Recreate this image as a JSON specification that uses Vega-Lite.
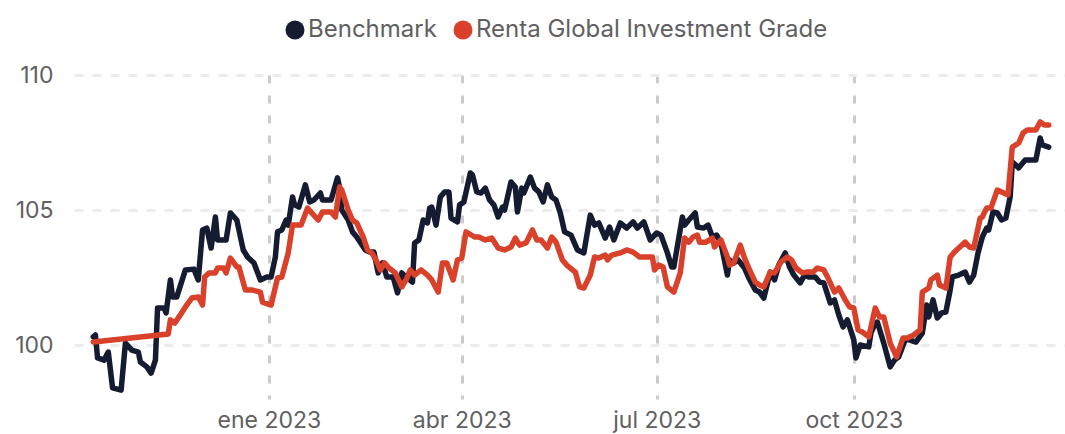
{
  "$schema": "https://vega.github.io/schema/vega-lite/v6.json",
  "autosize": "none",
  "width": 991,
  "height": 324,
  "padding": {"left": 74, "top": 75, "right": 0, "bottom": 35},
  "background": "#ffffff",
  "config": {
    "view": {"stroke": null},
    "font": "Inter",
    "axis": {"labelFont": "Inter", "labelColor": "#606060", "labelFontSize": 23, "domain": false, "ticks": false},
    "legend": {"labelFont": "Inter", "labelColor": "#606060", "labelFontSize": 24, "labelLimit": 0}
  },
  "datasets": {
    "series": [
      {"date": "2022-10-11", "series": "Benchmark", "value": 100.30},
      {"date": "2022-10-12", "series": "Benchmark", "value": 100.37},
      {"date": "2022-10-13", "series": "Benchmark", "value": 99.52},
      {"date": "2022-10-16", "series": "Benchmark", "value": 99.44},
      {"date": "2022-10-18", "series": "Benchmark", "value": 99.74},
      {"date": "2022-10-20", "series": "Benchmark", "value": 98.41},
      {"date": "2022-10-24", "series": "Benchmark", "value": 98.33},
      {"date": "2022-10-26", "series": "Benchmark", "value": 100.07},
      {"date": "2022-10-29", "series": "Benchmark", "value": 99.81},
      {"date": "2022-11-01", "series": "Benchmark", "value": 99.74},
      {"date": "2022-11-02", "series": "Benchmark", "value": 99.37},
      {"date": "2022-11-05", "series": "Benchmark", "value": 99.19},
      {"date": "2022-11-07", "series": "Benchmark", "value": 98.96},
      {"date": "2022-11-09", "series": "Benchmark", "value": 99.44},
      {"date": "2022-11-10", "series": "Benchmark", "value": 101.37},
      {"date": "2022-11-13", "series": "Benchmark", "value": 101.37},
      {"date": "2022-11-14", "series": "Benchmark", "value": 101.19},
      {"date": "2022-11-16", "series": "Benchmark", "value": 102.41},
      {"date": "2022-11-17", "series": "Benchmark", "value": 101.78},
      {"date": "2022-11-19", "series": "Benchmark", "value": 101.78},
      {"date": "2022-11-23", "series": "Benchmark", "value": 102.78},
      {"date": "2022-11-27", "series": "Benchmark", "value": 102.81},
      {"date": "2022-11-29", "series": "Benchmark", "value": 102.41},
      {"date": "2022-12-01", "series": "Benchmark", "value": 104.26},
      {"date": "2022-12-03", "series": "Benchmark", "value": 104.33},
      {"date": "2022-12-05", "series": "Benchmark", "value": 103.59},
      {"date": "2022-12-07", "series": "Benchmark", "value": 104.74},
      {"date": "2022-12-08", "series": "Benchmark", "value": 103.89},
      {"date": "2022-12-12", "series": "Benchmark", "value": 103.89},
      {"date": "2022-12-14", "series": "Benchmark", "value": 104.89},
      {"date": "2022-12-17", "series": "Benchmark", "value": 104.63},
      {"date": "2022-12-20", "series": "Benchmark", "value": 103.52},
      {"date": "2022-12-22", "series": "Benchmark", "value": 103.26},
      {"date": "2022-12-25", "series": "Benchmark", "value": 103.04},
      {"date": "2022-12-28", "series": "Benchmark", "value": 102.41},
      {"date": "2022-12-31", "series": "Benchmark", "value": 102.52},
      {"date": "2023-01-02", "series": "Benchmark", "value": 102.52},
      {"date": "2023-01-04", "series": "Benchmark", "value": 103.26},
      {"date": "2023-01-05", "series": "Benchmark", "value": 104.19},
      {"date": "2023-01-07", "series": "Benchmark", "value": 104.26},
      {"date": "2023-01-09", "series": "Benchmark", "value": 104.63},
      {"date": "2023-01-10", "series": "Benchmark", "value": 104.44},
      {"date": "2023-01-12", "series": "Benchmark", "value": 105.48},
      {"date": "2023-01-13", "series": "Benchmark", "value": 105.19},
      {"date": "2023-01-15", "series": "Benchmark", "value": 105.11},
      {"date": "2023-01-18", "series": "Benchmark", "value": 105.93},
      {"date": "2023-01-20", "series": "Benchmark", "value": 105.30},
      {"date": "2023-01-22", "series": "Benchmark", "value": 105.37},
      {"date": "2023-01-25", "series": "Benchmark", "value": 105.63},
      {"date": "2023-01-26", "series": "Benchmark", "value": 105.37},
      {"date": "2023-01-30", "series": "Benchmark", "value": 105.37},
      {"date": "2023-02-02", "series": "Benchmark", "value": 106.19},
      {"date": "2023-02-03", "series": "Benchmark", "value": 105.81},
      {"date": "2023-02-04", "series": "Benchmark", "value": 105.00},
      {"date": "2023-02-07", "series": "Benchmark", "value": 104.63},
      {"date": "2023-02-09", "series": "Benchmark", "value": 104.19},
      {"date": "2023-02-11", "series": "Benchmark", "value": 104.00},
      {"date": "2023-02-15", "series": "Benchmark", "value": 103.52},
      {"date": "2023-02-17", "series": "Benchmark", "value": 103.44},
      {"date": "2023-02-19", "series": "Benchmark", "value": 103.44},
      {"date": "2023-02-21", "series": "Benchmark", "value": 102.67},
      {"date": "2023-02-23", "series": "Benchmark", "value": 103.04},
      {"date": "2023-02-25", "series": "Benchmark", "value": 102.52},
      {"date": "2023-02-28", "series": "Benchmark", "value": 102.52},
      {"date": "2023-03-02", "series": "Benchmark", "value": 101.93},
      {"date": "2023-03-04", "series": "Benchmark", "value": 102.67},
      {"date": "2023-03-06", "series": "Benchmark", "value": 102.52},
      {"date": "2023-03-09", "series": "Benchmark", "value": 102.33},
      {"date": "2023-03-10", "series": "Benchmark", "value": 103.78},
      {"date": "2023-03-12", "series": "Benchmark", "value": 103.89},
      {"date": "2023-03-14", "series": "Benchmark", "value": 104.63},
      {"date": "2023-03-16", "series": "Benchmark", "value": 104.52},
      {"date": "2023-03-17", "series": "Benchmark", "value": 105.07},
      {"date": "2023-03-18", "series": "Benchmark", "value": 105.11},
      {"date": "2023-03-20", "series": "Benchmark", "value": 104.44},
      {"date": "2023-03-22", "series": "Benchmark", "value": 105.48},
      {"date": "2023-03-24", "series": "Benchmark", "value": 105.67},
      {"date": "2023-03-26", "series": "Benchmark", "value": 105.67},
      {"date": "2023-03-27", "series": "Benchmark", "value": 104.70},
      {"date": "2023-03-30", "series": "Benchmark", "value": 104.56},
      {"date": "2023-03-31", "series": "Benchmark", "value": 105.19},
      {"date": "2023-04-02", "series": "Benchmark", "value": 105.30},
      {"date": "2023-04-05", "series": "Benchmark", "value": 106.37},
      {"date": "2023-04-06", "series": "Benchmark", "value": 106.30},
      {"date": "2023-04-08", "series": "Benchmark", "value": 105.67},
      {"date": "2023-04-10", "series": "Benchmark", "value": 105.63},
      {"date": "2023-04-12", "series": "Benchmark", "value": 105.81},
      {"date": "2023-04-14", "series": "Benchmark", "value": 105.37},
      {"date": "2023-04-16", "series": "Benchmark", "value": 105.19},
      {"date": "2023-04-18", "series": "Benchmark", "value": 104.74},
      {"date": "2023-04-20", "series": "Benchmark", "value": 105.11},
      {"date": "2023-04-21", "series": "Benchmark", "value": 105.00},
      {"date": "2023-04-24", "series": "Benchmark", "value": 106.04},
      {"date": "2023-04-26", "series": "Benchmark", "value": 105.85},
      {"date": "2023-04-27", "series": "Benchmark", "value": 104.93},
      {"date": "2023-04-29", "series": "Benchmark", "value": 105.81},
      {"date": "2023-04-30", "series": "Benchmark", "value": 105.63},
      {"date": "2023-05-03", "series": "Benchmark", "value": 106.22},
      {"date": "2023-05-05", "series": "Benchmark", "value": 105.81},
      {"date": "2023-05-07", "series": "Benchmark", "value": 105.67},
      {"date": "2023-05-09", "series": "Benchmark", "value": 105.30},
      {"date": "2023-05-11", "series": "Benchmark", "value": 105.93},
      {"date": "2023-05-13", "series": "Benchmark", "value": 105.48},
      {"date": "2023-05-15", "series": "Benchmark", "value": 105.37},
      {"date": "2023-05-17", "series": "Benchmark", "value": 104.89},
      {"date": "2023-05-19", "series": "Benchmark", "value": 104.19},
      {"date": "2023-05-22", "series": "Benchmark", "value": 104.07},
      {"date": "2023-05-25", "series": "Benchmark", "value": 103.52},
      {"date": "2023-05-28", "series": "Benchmark", "value": 103.41},
      {"date": "2023-05-31", "series": "Benchmark", "value": 104.81},
      {"date": "2023-06-02", "series": "Benchmark", "value": 104.44},
      {"date": "2023-06-04", "series": "Benchmark", "value": 104.52},
      {"date": "2023-06-07", "series": "Benchmark", "value": 103.96},
      {"date": "2023-06-09", "series": "Benchmark", "value": 104.37},
      {"date": "2023-06-11", "series": "Benchmark", "value": 103.89},
      {"date": "2023-06-14", "series": "Benchmark", "value": 104.52},
      {"date": "2023-06-17", "series": "Benchmark", "value": 104.33},
      {"date": "2023-06-20", "series": "Benchmark", "value": 104.56},
      {"date": "2023-06-22", "series": "Benchmark", "value": 104.33},
      {"date": "2023-06-25", "series": "Benchmark", "value": 104.56},
      {"date": "2023-06-28", "series": "Benchmark", "value": 103.89},
      {"date": "2023-07-01", "series": "Benchmark", "value": 104.15},
      {"date": "2023-07-03", "series": "Benchmark", "value": 104.07},
      {"date": "2023-07-06", "series": "Benchmark", "value": 103.41},
      {"date": "2023-07-08", "series": "Benchmark", "value": 102.89},
      {"date": "2023-07-09", "series": "Benchmark", "value": 102.89},
      {"date": "2023-07-13", "series": "Benchmark", "value": 104.74},
      {"date": "2023-07-14", "series": "Benchmark", "value": 104.44},
      {"date": "2023-07-16", "series": "Benchmark", "value": 104.63},
      {"date": "2023-07-19", "series": "Benchmark", "value": 104.89},
      {"date": "2023-07-20", "series": "Benchmark", "value": 104.37},
      {"date": "2023-07-23", "series": "Benchmark", "value": 104.33},
      {"date": "2023-07-25", "series": "Benchmark", "value": 104.44},
      {"date": "2023-07-27", "series": "Benchmark", "value": 104.00},
      {"date": "2023-07-29", "series": "Benchmark", "value": 104.07},
      {"date": "2023-07-31", "series": "Benchmark", "value": 103.78},
      {"date": "2023-08-03", "series": "Benchmark", "value": 102.59},
      {"date": "2023-08-04", "series": "Benchmark", "value": 103.15},
      {"date": "2023-08-06", "series": "Benchmark", "value": 103.04},
      {"date": "2023-08-08", "series": "Benchmark", "value": 103.15},
      {"date": "2023-08-11", "series": "Benchmark", "value": 102.85},
      {"date": "2023-08-13", "series": "Benchmark", "value": 102.48},
      {"date": "2023-08-16", "series": "Benchmark", "value": 102.04},
      {"date": "2023-08-18", "series": "Benchmark", "value": 101.96},
      {"date": "2023-08-20", "series": "Benchmark", "value": 101.74},
      {"date": "2023-08-23", "series": "Benchmark", "value": 102.70},
      {"date": "2023-08-25", "series": "Benchmark", "value": 102.41},
      {"date": "2023-08-27", "series": "Benchmark", "value": 102.96},
      {"date": "2023-08-30", "series": "Benchmark", "value": 103.41},
      {"date": "2023-09-01", "series": "Benchmark", "value": 102.89},
      {"date": "2023-09-03", "series": "Benchmark", "value": 102.59},
      {"date": "2023-09-06", "series": "Benchmark", "value": 102.30},
      {"date": "2023-09-08", "series": "Benchmark", "value": 102.59},
      {"date": "2023-09-10", "series": "Benchmark", "value": 102.52},
      {"date": "2023-09-13", "series": "Benchmark", "value": 102.52},
      {"date": "2023-09-15", "series": "Benchmark", "value": 102.33},
      {"date": "2023-09-17", "series": "Benchmark", "value": 102.30},
      {"date": "2023-09-20", "series": "Benchmark", "value": 101.56},
      {"date": "2023-09-22", "series": "Benchmark", "value": 101.67},
      {"date": "2023-09-24", "series": "Benchmark", "value": 101.11},
      {"date": "2023-09-26", "series": "Benchmark", "value": 100.67},
      {"date": "2023-09-28", "series": "Benchmark", "value": 100.93},
      {"date": "2023-10-01", "series": "Benchmark", "value": 100.19},
      {"date": "2023-10-02", "series": "Benchmark", "value": 99.52},
      {"date": "2023-10-04", "series": "Benchmark", "value": 100.00},
      {"date": "2023-10-08", "series": "Benchmark", "value": 99.93},
      {"date": "2023-10-09", "series": "Benchmark", "value": 100.44},
      {"date": "2023-10-11", "series": "Benchmark", "value": 100.81},
      {"date": "2023-10-12", "series": "Benchmark", "value": 100.85},
      {"date": "2023-10-15", "series": "Benchmark", "value": 100.07},
      {"date": "2023-10-18", "series": "Benchmark", "value": 99.19},
      {"date": "2023-10-20", "series": "Benchmark", "value": 99.44},
      {"date": "2023-10-22", "series": "Benchmark", "value": 99.56},
      {"date": "2023-10-25", "series": "Benchmark", "value": 100.19},
      {"date": "2023-10-27", "series": "Benchmark", "value": 100.19},
      {"date": "2023-10-30", "series": "Benchmark", "value": 100.11},
      {"date": "2023-11-02", "series": "Benchmark", "value": 100.44},
      {"date": "2023-11-04", "series": "Benchmark", "value": 101.48},
      {"date": "2023-11-05", "series": "Benchmark", "value": 101.04},
      {"date": "2023-11-07", "series": "Benchmark", "value": 101.67},
      {"date": "2023-11-09", "series": "Benchmark", "value": 101.00},
      {"date": "2023-11-11", "series": "Benchmark", "value": 101.19},
      {"date": "2023-11-13", "series": "Benchmark", "value": 101.22},
      {"date": "2023-11-15", "series": "Benchmark", "value": 102.04},
      {"date": "2023-11-16", "series": "Benchmark", "value": 102.52},
      {"date": "2023-11-19", "series": "Benchmark", "value": 102.59},
      {"date": "2023-11-22", "series": "Benchmark", "value": 102.70},
      {"date": "2023-11-24", "series": "Benchmark", "value": 102.33},
      {"date": "2023-11-26", "series": "Benchmark", "value": 102.59},
      {"date": "2023-11-28", "series": "Benchmark", "value": 103.41},
      {"date": "2023-11-30", "series": "Benchmark", "value": 104.00},
      {"date": "2023-12-02", "series": "Benchmark", "value": 104.33},
      {"date": "2023-12-03", "series": "Benchmark", "value": 104.26},
      {"date": "2023-12-05", "series": "Benchmark", "value": 104.93},
      {"date": "2023-12-07", "series": "Benchmark", "value": 104.89},
      {"date": "2023-12-09", "series": "Benchmark", "value": 104.63},
      {"date": "2023-12-11", "series": "Benchmark", "value": 104.70},
      {"date": "2023-12-13", "series": "Benchmark", "value": 105.48},
      {"date": "2023-12-14", "series": "Benchmark", "value": 106.78},
      {"date": "2023-12-17", "series": "Benchmark", "value": 106.56},
      {"date": "2023-12-20", "series": "Benchmark", "value": 106.85},
      {"date": "2023-12-23", "series": "Benchmark", "value": 106.85},
      {"date": "2023-12-25", "series": "Benchmark", "value": 106.85},
      {"date": "2023-12-27", "series": "Benchmark", "value": 107.67},
      {"date": "2023-12-28", "series": "Benchmark", "value": 107.41},
      {"date": "2023-12-31", "series": "Benchmark", "value": 107.33},

      {"date": "2022-10-11", "series": "Renta Global Investment Grade", "value": 100.11},
      {"date": "2022-11-15", "series": "Renta Global Investment Grade", "value": 100.41},
      {"date": "2022-11-16", "series": "Renta Global Investment Grade", "value": 100.93},
      {"date": "2022-11-18", "series": "Renta Global Investment Grade", "value": 100.81},
      {"date": "2022-11-20", "series": "Renta Global Investment Grade", "value": 101.04},
      {"date": "2022-11-23", "series": "Renta Global Investment Grade", "value": 101.41},
      {"date": "2022-11-26", "series": "Renta Global Investment Grade", "value": 101.74},
      {"date": "2022-11-29", "series": "Renta Global Investment Grade", "value": 101.78},
      {"date": "2022-12-01", "series": "Renta Global Investment Grade", "value": 101.48},
      {"date": "2022-12-02", "series": "Renta Global Investment Grade", "value": 102.52},
      {"date": "2022-12-04", "series": "Renta Global Investment Grade", "value": 102.67},
      {"date": "2022-12-07", "series": "Renta Global Investment Grade", "value": 102.67},
      {"date": "2022-12-08", "series": "Renta Global Investment Grade", "value": 102.85},
      {"date": "2022-12-11", "series": "Renta Global Investment Grade", "value": 102.85},
      {"date": "2022-12-12", "series": "Renta Global Investment Grade", "value": 102.67},
      {"date": "2022-12-14", "series": "Renta Global Investment Grade", "value": 103.22},
      {"date": "2022-12-17", "series": "Renta Global Investment Grade", "value": 102.89},
      {"date": "2022-12-18", "series": "Renta Global Investment Grade", "value": 102.89},
      {"date": "2022-12-21", "series": "Renta Global Investment Grade", "value": 102.04},
      {"date": "2022-12-24", "series": "Renta Global Investment Grade", "value": 102.04},
      {"date": "2022-12-28", "series": "Renta Global Investment Grade", "value": 101.96},
      {"date": "2022-12-29", "series": "Renta Global Investment Grade", "value": 101.59},
      {"date": "2023-01-02", "series": "Renta Global Investment Grade", "value": 101.48},
      {"date": "2023-01-05", "series": "Renta Global Investment Grade", "value": 102.48},
      {"date": "2023-01-07", "series": "Renta Global Investment Grade", "value": 102.52},
      {"date": "2023-01-10", "series": "Renta Global Investment Grade", "value": 103.41},
      {"date": "2023-01-12", "series": "Renta Global Investment Grade", "value": 104.44},
      {"date": "2023-01-16", "series": "Renta Global Investment Grade", "value": 104.44},
      {"date": "2023-01-19", "series": "Renta Global Investment Grade", "value": 105.07},
      {"date": "2023-01-21", "series": "Renta Global Investment Grade", "value": 104.89},
      {"date": "2023-01-24", "series": "Renta Global Investment Grade", "value": 104.63},
      {"date": "2023-01-26", "series": "Renta Global Investment Grade", "value": 104.93},
      {"date": "2023-01-30", "series": "Renta Global Investment Grade", "value": 104.93},
      {"date": "2023-02-01", "series": "Renta Global Investment Grade", "value": 104.74},
      {"date": "2023-02-03", "series": "Renta Global Investment Grade", "value": 105.85},
      {"date": "2023-02-04", "series": "Renta Global Investment Grade", "value": 105.74},
      {"date": "2023-02-07", "series": "Renta Global Investment Grade", "value": 105.00},
      {"date": "2023-02-09", "series": "Renta Global Investment Grade", "value": 104.63},
      {"date": "2023-02-11", "series": "Renta Global Investment Grade", "value": 104.52},
      {"date": "2023-02-14", "series": "Renta Global Investment Grade", "value": 104.00},
      {"date": "2023-02-16", "series": "Renta Global Investment Grade", "value": 103.52},
      {"date": "2023-02-18", "series": "Renta Global Investment Grade", "value": 103.41},
      {"date": "2023-02-20", "series": "Renta Global Investment Grade", "value": 103.15},
      {"date": "2023-02-22", "series": "Renta Global Investment Grade", "value": 102.78},
      {"date": "2023-02-24", "series": "Renta Global Investment Grade", "value": 103.04},
      {"date": "2023-02-26", "series": "Renta Global Investment Grade", "value": 102.85},
      {"date": "2023-03-01", "series": "Renta Global Investment Grade", "value": 102.67},
      {"date": "2023-03-04", "series": "Renta Global Investment Grade", "value": 102.15},
      {"date": "2023-03-06", "series": "Renta Global Investment Grade", "value": 102.41},
      {"date": "2023-03-08", "series": "Renta Global Investment Grade", "value": 102.78},
      {"date": "2023-03-10", "series": "Renta Global Investment Grade", "value": 102.59},
      {"date": "2023-03-13", "series": "Renta Global Investment Grade", "value": 102.78},
      {"date": "2023-03-16", "series": "Renta Global Investment Grade", "value": 102.59},
      {"date": "2023-03-18", "series": "Renta Global Investment Grade", "value": 102.41},
      {"date": "2023-03-21", "series": "Renta Global Investment Grade", "value": 101.96},
      {"date": "2023-03-23", "series": "Renta Global Investment Grade", "value": 103.04},
      {"date": "2023-03-25", "series": "Renta Global Investment Grade", "value": 103.04},
      {"date": "2023-03-28", "series": "Renta Global Investment Grade", "value": 102.41},
      {"date": "2023-03-30", "series": "Renta Global Investment Grade", "value": 103.15},
      {"date": "2023-04-01", "series": "Renta Global Investment Grade", "value": 103.22},
      {"date": "2023-04-03", "series": "Renta Global Investment Grade", "value": 104.19},
      {"date": "2023-04-07", "series": "Renta Global Investment Grade", "value": 104.00},
      {"date": "2023-04-09", "series": "Renta Global Investment Grade", "value": 104.00},
      {"date": "2023-04-12", "series": "Renta Global Investment Grade", "value": 103.89},
      {"date": "2023-04-15", "series": "Renta Global Investment Grade", "value": 103.96},
      {"date": "2023-04-18", "series": "Renta Global Investment Grade", "value": 103.59},
      {"date": "2023-04-21", "series": "Renta Global Investment Grade", "value": 103.52},
      {"date": "2023-04-24", "series": "Renta Global Investment Grade", "value": 103.63},
      {"date": "2023-04-26", "series": "Renta Global Investment Grade", "value": 103.96},
      {"date": "2023-04-28", "series": "Renta Global Investment Grade", "value": 103.70},
      {"date": "2023-05-01", "series": "Renta Global Investment Grade", "value": 103.78},
      {"date": "2023-05-04", "series": "Renta Global Investment Grade", "value": 104.26},
      {"date": "2023-05-06", "series": "Renta Global Investment Grade", "value": 103.89},
      {"date": "2023-05-08", "series": "Renta Global Investment Grade", "value": 103.89},
      {"date": "2023-05-11", "series": "Renta Global Investment Grade", "value": 103.59},
      {"date": "2023-05-13", "series": "Renta Global Investment Grade", "value": 104.00},
      {"date": "2023-05-15", "series": "Renta Global Investment Grade", "value": 103.81},
      {"date": "2023-05-18", "series": "Renta Global Investment Grade", "value": 103.15},
      {"date": "2023-05-20", "series": "Renta Global Investment Grade", "value": 102.96},
      {"date": "2023-05-24", "series": "Renta Global Investment Grade", "value": 102.70},
      {"date": "2023-05-26", "series": "Renta Global Investment Grade", "value": 102.15},
      {"date": "2023-05-28", "series": "Renta Global Investment Grade", "value": 102.11},
      {"date": "2023-05-31", "series": "Renta Global Investment Grade", "value": 102.59},
      {"date": "2023-06-02", "series": "Renta Global Investment Grade", "value": 103.26},
      {"date": "2023-06-04", "series": "Renta Global Investment Grade", "value": 103.22},
      {"date": "2023-06-07", "series": "Renta Global Investment Grade", "value": 103.33},
      {"date": "2023-06-08", "series": "Renta Global Investment Grade", "value": 103.15},
      {"date": "2023-06-10", "series": "Renta Global Investment Grade", "value": 103.33},
      {"date": "2023-06-14", "series": "Renta Global Investment Grade", "value": 103.41},
      {"date": "2023-06-17", "series": "Renta Global Investment Grade", "value": 103.52},
      {"date": "2023-06-20", "series": "Renta Global Investment Grade", "value": 103.44},
      {"date": "2023-06-23", "series": "Renta Global Investment Grade", "value": 103.26},
      {"date": "2023-06-26", "series": "Renta Global Investment Grade", "value": 103.26},
      {"date": "2023-06-29", "series": "Renta Global Investment Grade", "value": 103.26},
      {"date": "2023-06-30", "series": "Renta Global Investment Grade", "value": 102.78},
      {"date": "2023-07-02", "series": "Renta Global Investment Grade", "value": 102.96},
      {"date": "2023-07-04", "series": "Renta Global Investment Grade", "value": 102.89},
      {"date": "2023-07-06", "series": "Renta Global Investment Grade", "value": 102.15},
      {"date": "2023-07-09", "series": "Renta Global Investment Grade", "value": 101.96},
      {"date": "2023-07-12", "series": "Renta Global Investment Grade", "value": 102.67},
      {"date": "2023-07-14", "series": "Renta Global Investment Grade", "value": 103.96},
      {"date": "2023-07-16", "series": "Renta Global Investment Grade", "value": 103.81},
      {"date": "2023-07-18", "series": "Renta Global Investment Grade", "value": 104.00},
      {"date": "2023-07-20", "series": "Renta Global Investment Grade", "value": 104.07},
      {"date": "2023-07-21", "series": "Renta Global Investment Grade", "value": 103.81},
      {"date": "2023-07-24", "series": "Renta Global Investment Grade", "value": 103.81},
      {"date": "2023-07-27", "series": "Renta Global Investment Grade", "value": 103.96},
      {"date": "2023-07-28", "series": "Renta Global Investment Grade", "value": 103.63},
      {"date": "2023-07-31", "series": "Renta Global Investment Grade", "value": 103.89},
      {"date": "2023-08-03", "series": "Renta Global Investment Grade", "value": 103.26},
      {"date": "2023-08-04", "series": "Renta Global Investment Grade", "value": 102.96},
      {"date": "2023-08-06", "series": "Renta Global Investment Grade", "value": 103.04},
      {"date": "2023-08-09", "series": "Renta Global Investment Grade", "value": 103.70},
      {"date": "2023-08-11", "series": "Renta Global Investment Grade", "value": 103.22},
      {"date": "2023-08-13", "series": "Renta Global Investment Grade", "value": 102.85},
      {"date": "2023-08-16", "series": "Renta Global Investment Grade", "value": 102.33},
      {"date": "2023-08-18", "series": "Renta Global Investment Grade", "value": 102.22},
      {"date": "2023-08-20", "series": "Renta Global Investment Grade", "value": 102.15},
      {"date": "2023-08-23", "series": "Renta Global Investment Grade", "value": 102.70},
      {"date": "2023-08-25", "series": "Renta Global Investment Grade", "value": 102.67},
      {"date": "2023-08-28", "series": "Renta Global Investment Grade", "value": 103.07},
      {"date": "2023-08-31", "series": "Renta Global Investment Grade", "value": 103.26},
      {"date": "2023-09-02", "series": "Renta Global Investment Grade", "value": 103.15},
      {"date": "2023-09-04", "series": "Renta Global Investment Grade", "value": 102.85},
      {"date": "2023-09-07", "series": "Renta Global Investment Grade", "value": 102.67},
      {"date": "2023-09-09", "series": "Renta Global Investment Grade", "value": 102.70},
      {"date": "2023-09-12", "series": "Renta Global Investment Grade", "value": 102.70},
      {"date": "2023-09-14", "series": "Renta Global Investment Grade", "value": 102.85},
      {"date": "2023-09-17", "series": "Renta Global Investment Grade", "value": 102.78},
      {"date": "2023-09-19", "series": "Renta Global Investment Grade", "value": 102.48},
      {"date": "2023-09-22", "series": "Renta Global Investment Grade", "value": 101.96},
      {"date": "2023-09-24", "series": "Renta Global Investment Grade", "value": 102.11},
      {"date": "2023-09-27", "series": "Renta Global Investment Grade", "value": 101.67},
      {"date": "2023-09-29", "series": "Renta Global Investment Grade", "value": 101.41},
      {"date": "2023-10-01", "series": "Renta Global Investment Grade", "value": 101.37},
      {"date": "2023-10-03", "series": "Renta Global Investment Grade", "value": 100.56},
      {"date": "2023-10-05", "series": "Renta Global Investment Grade", "value": 100.48},
      {"date": "2023-10-08", "series": "Renta Global Investment Grade", "value": 100.30},
      {"date": "2023-10-11", "series": "Renta Global Investment Grade", "value": 101.37},
      {"date": "2023-10-13", "series": "Renta Global Investment Grade", "value": 101.04},
      {"date": "2023-10-15", "series": "Renta Global Investment Grade", "value": 101.04},
      {"date": "2023-10-18", "series": "Renta Global Investment Grade", "value": 100.07},
      {"date": "2023-10-21", "series": "Renta Global Investment Grade", "value": 99.56},
      {"date": "2023-10-24", "series": "Renta Global Investment Grade", "value": 100.26},
      {"date": "2023-10-26", "series": "Renta Global Investment Grade", "value": 100.26},
      {"date": "2023-10-29", "series": "Renta Global Investment Grade", "value": 100.37},
      {"date": "2023-11-01", "series": "Renta Global Investment Grade", "value": 100.56},
      {"date": "2023-11-02", "series": "Renta Global Investment Grade", "value": 101.96},
      {"date": "2023-11-05", "series": "Renta Global Investment Grade", "value": 102.11},
      {"date": "2023-11-06", "series": "Renta Global Investment Grade", "value": 102.41},
      {"date": "2023-11-09", "series": "Renta Global Investment Grade", "value": 102.59},
      {"date": "2023-11-10", "series": "Renta Global Investment Grade", "value": 102.22},
      {"date": "2023-11-13", "series": "Renta Global Investment Grade", "value": 102.11},
      {"date": "2023-11-15", "series": "Renta Global Investment Grade", "value": 103.26},
      {"date": "2023-11-17", "series": "Renta Global Investment Grade", "value": 103.44},
      {"date": "2023-11-19", "series": "Renta Global Investment Grade", "value": 103.59},
      {"date": "2023-11-22", "series": "Renta Global Investment Grade", "value": 103.81},
      {"date": "2023-11-24", "series": "Renta Global Investment Grade", "value": 103.63},
      {"date": "2023-11-26", "series": "Renta Global Investment Grade", "value": 103.59},
      {"date": "2023-11-29", "series": "Renta Global Investment Grade", "value": 104.70},
      {"date": "2023-11-30", "series": "Renta Global Investment Grade", "value": 104.74},
      {"date": "2023-12-02", "series": "Renta Global Investment Grade", "value": 105.07},
      {"date": "2023-12-04", "series": "Renta Global Investment Grade", "value": 105.07},
      {"date": "2023-12-07", "series": "Renta Global Investment Grade", "value": 105.74},
      {"date": "2023-12-09", "series": "Renta Global Investment Grade", "value": 105.67},
      {"date": "2023-12-12", "series": "Renta Global Investment Grade", "value": 105.56},
      {"date": "2023-12-14", "series": "Renta Global Investment Grade", "value": 107.33},
      {"date": "2023-12-17", "series": "Renta Global Investment Grade", "value": 107.48},
      {"date": "2023-12-19", "series": "Renta Global Investment Grade", "value": 107.85},
      {"date": "2023-12-21", "series": "Renta Global Investment Grade", "value": 107.96},
      {"date": "2023-12-25", "series": "Renta Global Investment Grade", "value": 107.96},
      {"date": "2023-12-27", "series": "Renta Global Investment Grade", "value": 108.26},
      {"date": "2023-12-29", "series": "Renta Global Investment Grade", "value": 108.15},
      {"date": "2023-12-31", "series": "Renta Global Investment Grade", "value": 108.15}
    ]
  },
  "data": {"name": "series"},
  "mark": {"type": "line", "strokeWidth": 5.5, "strokeJoin": "round", "strokeCap": "round", "clip": true},
  "encoding": {
    "x": {
      "field": "date",
      "type": "temporal",
      "scale": {"type": "utc", "domain": [1664668800000, 1704637440000]},
      "axis": {
        "title": null,
        "values": [1672531200000, 1680307200000, 1688169600000, 1696118400000],
        "labelExpr": "['ene','feb','mar','abr','may','jun','jul','ago','sep','oct','nov','dic'][utcmonth(datum.value)] + ' ' + utcyear(datum.value)",
        "labelPadding": 10,
        "grid": true,
        "gridColor": "#cccccc",
        "gridWidth": 3,
        "gridDash": [8, 12]
      }
    },
    "y": {
      "field": "value",
      "type": "quantitative",
      "scale": {"domain": [98, 110], "nice": false, "zero": false},
      "axis": {
        "title": null,
        "values": [100, 105, 110],
        "labelPadding": 21,
        "grid": true,
        "gridColor": "#ececec",
        "gridWidth": 3,
        "gridDash": [9, 9]
      }
    },
    "color": {
      "field": "series",
      "type": "nominal",
      "scale": {"domain": ["Benchmark", "Renta Global Investment Grade"], "range": ["#151b30", "#d9412a"]},
      "legend": {
        "title": null,
        "orient": "none",
        "direction": "horizontal",
        "legendX": 209,
        "legendY": -57,
        "symbolType": "circle",
        "symbolSize": 361,
        "labelOffset": 1,
        "labelLimit": 0,
        "columnPadding": 14,
        "encode": {"symbols": {"update": {"fill": {"scale": "color", "field": "value"}, "strokeWidth": {"value": 0}}}}
      }
    }
  }
}
